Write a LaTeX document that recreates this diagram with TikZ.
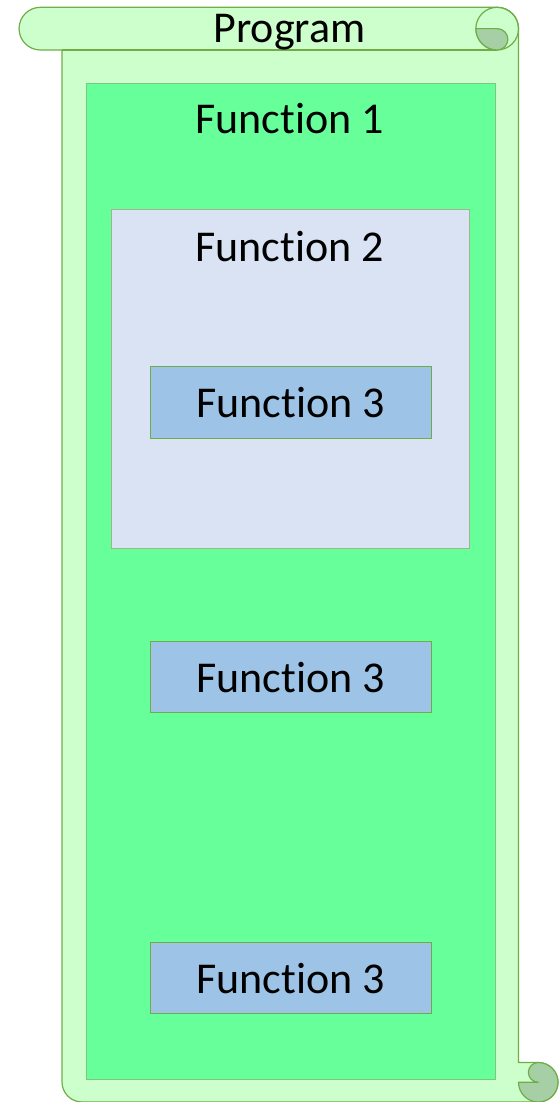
\documentclass[tikz,border=0pt]{standalone}
\usepackage{fontspec}
\setmainfont{Carlito}[Ligatures={NoCommon,NoContextual}]
\newcommand{\fnword}{Funct\kern0pt ion}
\definecolor{scrollfill}{HTML}{CCFFCC}
\definecolor{scrolldark}{HTML}{A6CFA6}
\definecolor{scrollline}{HTML}{70AD47}
\definecolor{fonefill}{HTML}{66FF99}
\definecolor{foneline}{HTML}{7CC87C}
\definecolor{ftwofill}{HTML}{DAE3F3}
\definecolor{ftwoline}{HTML}{A3B48C}
\definecolor{fthreefill}{HTML}{9DC3E6}
\tikzset{
  lbl/.style={font=\fontsize{44}{50}\selectfont, anchor=base, inner sep=0pt},
  scrollpart/.style={fill=scrollfill, draw=scrollline, line width=1.2pt, line join=round},
  curlpart/.style={fill=scrolldark, draw=scrollline, line width=1.2pt, line join=round},
  fbox/.style={rectangle, inner sep=0pt, outer sep=0pt, anchor=south west},
  fone/.style={fbox, fill=fonefill, draw=foneline, line width=1pt},
  ftwo/.style={fbox, fill=ftwofill, draw=ftwoline, line width=1pt},
  fthree/.style={fbox, fill=fthreefill, draw=scrollline, line width=1pt, minimum width=281pt, minimum height=71.5pt},
}
\begin{document}
\begin{tikzpicture}[x=1pt,y=1pt]
\useasboundingbox (0,0) rectangle (558,1102);
% scroll outline
\path[scrollpart] (40.4,1094.7) -- (497.2,1094.7) arc (90:0:21.35) -- (518.55,39.5) -- (538.25,39.5)
  arc (90:-90:19.75) -- (82,0) arc (270:180:20) -- (62,1052) -- (40.4,1052) arc (270:90:21.35) -- cycle;
\draw[scrollline, line width=1.2pt] (62,1052) -- (497.2,1052);
% top curl
\draw[scrollline, line width=1.2pt] (497.2,1073.35) circle (21.35);
\path[curlpart] (475.85,1073.35) -- (497.2,1073.35) arc (90:-90:10.675) arc (270:180:21.35) -- cycle;
% bottom curl
\path[curlpart] (518.5,19.75) arc (180:450:19.75) arc (90:270:9.875) -- cycle;
% function boxes
\node[fone, minimum width=409.5pt, minimum height=996.5pt] (f1) at (86,22) {};
\node[ftwo, minimum width=357.6pt, minimum height=339.7pt] (f2) at (111.7,553) {};
\node[fthree] (f3a) at (150,663.7) {};
\node[fthree] (f3b) at (150,389) {};
\node[fthree] (f3c) at (150,88) {};
% labels
\node[lbl] (tprog) at (289.5,1059) {Program};
\node[lbl] (tf1) at (289.5,968) {\fnword\ 1};
\node[lbl] (tf2) at (289.5,840) {\fnword\ 2};
\node[lbl] (tf3a) at (290.5,684) {\fnword\ 3};
\node[lbl] (tf3b) at (290.5,409) {\fnword\ 3};
\node[lbl] (tf3c) at (290.5,108) {\fnword\ 3};
\end{tikzpicture}
\end{document}
